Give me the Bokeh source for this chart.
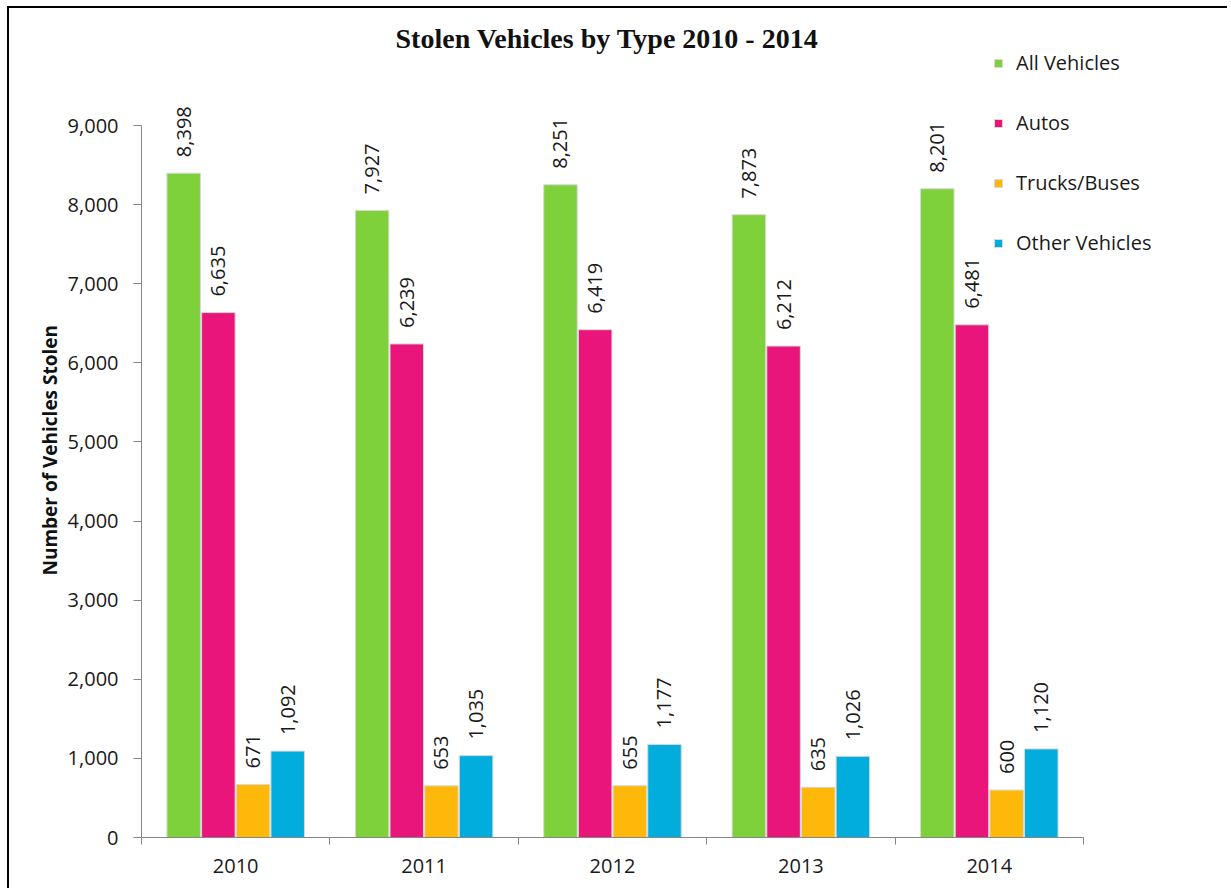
import math
import numpy as np
from bokeh.plotting import figure
from bokeh.models import (ColumnDataSource, FixedTicker, Legend, LegendItem, Label,
                          NumeralTickFormatter, Title)
from bokeh.core.properties import value
from bokeh.embed import file_html
from bokeh.resources import INLINE

# ---- data ----
years = ["2010", "2011", "2012", "2013", "2014"]
series_names = ["All Vehicles", "Autos", "Trucks/Buses", "Other Vehicles"]
all_vehicles = [8398, 7927, 8251, 7873, 8201]
autos = [6635, 6239, 6419, 6212, 6481]
trucks_buses = [671, 653, 655, 635, 600]
other_vehicles = [1092, 1035, 1177, 1026, 1120]
y_ticks = [0, 1000, 2000, 3000, 4000, 5000, 6000, 7000, 8000, 9000]
title_text = "Stolen Vehicles by Type  2010 - 2014"
y_label_text = "Number of Vehicles Stolen"

series_values = [all_vehicles, autos, trucks_buses, other_vehicles]
colors = ["#7FD13B", "#EA157A", "#FEB80A", "#00ADDC"]
offsets = [-0.276, -0.092, 0.092, 0.276]
bar_w = 0.178

FONT = "Open Sans"
TXT = "#1a1a1a"
AXC = "#868686"

W, H = 1220, 882
x_end = 5.775
y_end = 10479
p = figure(width=W, height=H, x_range=(0, x_end), y_range=(0, y_end),
           output_backend="svg", toolbar_location=None,
           min_border_left=132, min_border_right=0, min_border_top=0,
           min_border_bottom=53)
p.styles = {"border-top": "2px solid #000", "border-left": "2px solid #000",
            "margin-top": "6px", "margin-left": "7px"}
p.outline_line_color = None
p.xgrid.grid_line_color = None
p.ygrid.grid_line_color = None
p.background_fill_color = "white"
p.border_fill_color = "white"

idx = np.arange(len(years))
renderers = []
for name, vals, col, off in zip(series_names, series_values, colors, offsets):
    src = ColumnDataSource(dict(x=idx + 0.5 + off, top=vals,
                                lbl=[f"{v:,}" for v in vals]))
    r = p.vbar(x="x", top="top", width=bar_w, bottom=0, source=src,
               fill_color=col, line_color="#d9d9d9", line_width=1)
    renderers.append((name, r))
    p.text(x="x", y="top", text="lbl", source=src, angle=math.pi / 2,
           text_align="left", text_baseline="middle", y_offset=-16,
           text_font=value(FONT), text_font_size="20px", text_color=TXT)

# x axis: labels at centers, ticks at boundaries
p.xaxis.ticker = FixedTicker(ticks=list(idx + 0.5), minor_ticks=list(range(len(years) + 1)))
p.xaxis.bounds = (0, len(years))
p.xaxis.major_label_overrides = {float(i + 0.5): y for i, y in enumerate(years)}
p.xaxis.major_tick_line_color = None
p.xaxis.minor_tick_line_color = AXC
p.xaxis.minor_tick_out = 7
p.xaxis.minor_tick_in = 0
p.xaxis.axis_line_color = AXC
p.xaxis.major_label_text_font = FONT
p.xaxis.major_label_text_font_size = "20px"
p.xaxis.major_label_text_color = TXT
p.xaxis.major_label_standoff = 14

# y axis
p.yaxis.ticker = FixedTicker(ticks=y_ticks, minor_ticks=[])
p.yaxis.bounds = (0, 9000)
p.yaxis.formatter = NumeralTickFormatter(format="0,0")
p.yaxis.axis_line_color = AXC
p.yaxis.major_tick_line_color = AXC
p.yaxis.major_tick_out = 8
p.yaxis.major_tick_in = 0
p.yaxis.minor_tick_line_color = None
p.yaxis.major_label_text_font = FONT
p.yaxis.major_label_text_font_size = "20px"
p.yaxis.major_label_text_color = TXT
p.yaxis.major_label_standoff = 15

# y-axis title, placed in the left panel
p.add_layout(Title(text=y_label_text, align="left", offset=262, standoff=4,
                   text_font=FONT, text_font_style="bold",
                   text_font_size="19px", text_color="#111"), "left")

# chart title
p.add_layout(Label(x=2.49, y=10100, text=title_text, text_align="center",
                   text_baseline="middle", text_font="Liberation Serif",
                   text_font_style="bold", text_font_size="28px", text_color="#111"))

legend = Legend(items=[LegendItem(label=n, renderers=[r]) for n, r in renderers],
                location=(852, 581), orientation="vertical",
                glyph_width=10, glyph_height=10, label_height=20, spacing=33,
                label_standoff=13, padding=10, margin=0,
                border_line_color=None, background_fill_alpha=0,
                label_text_font=FONT, label_text_font_size="20px",
                label_text_color=TXT)
p.add_layout(legend)

open("out.html", "w").write(file_html(p, INLINE))
